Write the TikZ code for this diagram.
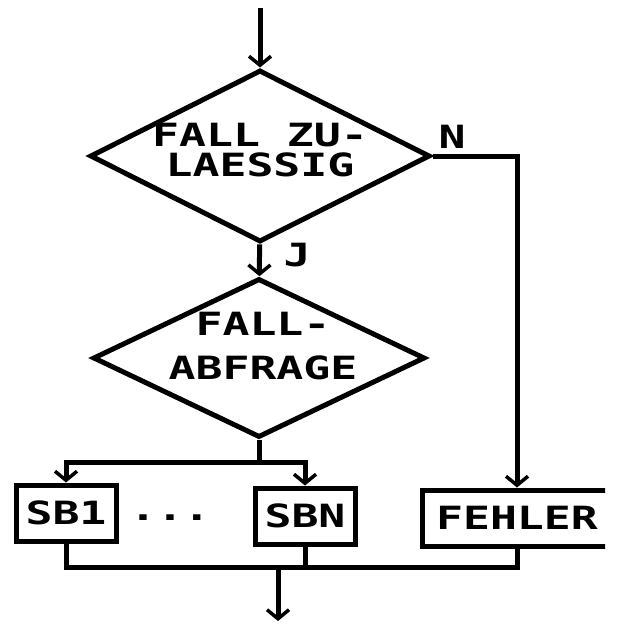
\documentclass[tikz,border=0pt]{standalone}
\usepackage{fontspec}
\newfontfamily\plotfont[FakeStretch=1.4]{DejaVu Sans Mono}
\usetikzlibrary{positioning,arrows.meta,shapes.geometric}
\tikzset{
  flow-line/.style={line width=5pt,draw=black},
  flow-arrow/.style={flow-line,-{Straight Barb[length=9pt,width=22pt,line width=3.5pt]}},
  flow-text/.style={align=center,inner sep=0pt,
    font=\plotfont\bfseries\fontsize{32pt}{30pt}\selectfont},
  node-test/.style={draw,line width=5pt,diamond,inner sep=0pt,aspect=2},
  node-box/.style={draw,line width=5pt,minimum height=56pt,inner sep=4pt,
    flow-text,inner sep=4pt},
}
\begin{document}
\begin{tikzpicture}[x=1pt,y=-1pt]
  \useasboundingbox (0,0) rectangle (617,624);
  \clip (0,0) rectangle (605,624);
  % Entscheidungen
  \node[node-test,minimum width=340pt,minimum height=172pt,
    label={[flow-text,yshift=6pt]center:FALL ZU-\\LAESSIG}] (ok) at (260,156) {};
  \node[node-test,minimum width=332pt,minimum height=159pt,
    label={[flow-text,yshift=12pt,xshift=4pt]center:FALL-\\[14pt]ABFRAGE}] (case) at (259,358) {};
  % Bloecke
  \node[node-box,minimum width=100pt] (sb1) at (66,513) {SB1};
  \node[flow-text] (dots) at (170,518) {...};
  \node[node-box,minimum width=100pt] (sbn) at (305,516) {SBN};
  \node[node-box,minimum width=190pt] (err) at (517,518) {FEHLER};
  \node[flow-text] (yes) at (297,255) {J};
  \node[flow-text] (no) at (452,137) {N};
  \coordinate (in) at (260,8);
  \coordinate (fork) at (259,462);
  \coordinate (join) at (278,567);
  \coordinate (out) at (278,621);
  \draw[flow-arrow] (in) -- (ok);
  \draw[flow-arrow] (ok) -- (case);
  \draw[flow-arrow] (ok.east) -| (err.north);
  \draw[flow-line] (case.south) -- (fork);
  \draw[flow-arrow] (fork) -| (sb1.north);
  \draw[flow-arrow] (fork) -| (sbn.north);
  \draw[flow-line] (sb1.south) |- (join);
  \draw[flow-line] (sbn.south) |- (join);
  \draw[flow-line] (err.south) |- (join);
  \draw[flow-arrow] (join) -- (out);
\end{tikzpicture}
\end{document}
